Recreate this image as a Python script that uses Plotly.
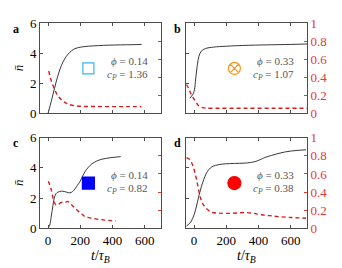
import plotly.graph_objects as go

# ---------------- data ----------------
# panel a  (phi=0.14, cP=1.36)
ta_n = [0, 20, 42, 62, 83, 104, 125, 146, 167, 208, 250, 312, 375, 450, 520, 580]
na = [0, 0.8, 1.75, 2.55, 3.2, 3.65, 3.96, 4.18, 4.32, 4.43, 4.48, 4.52, 4.55, 4.57, 4.58, 4.6]
ta_p = [4, 20, 42, 62, 83, 104, 125, 167, 210, 300, 400, 500, 580]
pa = [0.47, 0.36, 0.26, 0.19, 0.15, 0.12, 0.1, 0.082, 0.076, 0.074, 0.073, 0.073, 0.073]

# panel b  (phi=0.33, cP=1.07)
tb_n = [-25, -15, -5, 3, 10, 20, 30, 45, 70, 120, 200, 300, 450, 600, 700]
nb = [1.0, 1.15, 1.3, 1.6, 2.3, 3.2, 3.8, 4.15, 4.32, 4.42, 4.48, 4.53, 4.57, 4.6, 4.63]
tb_p = [-47, -35, -20, -5, 10, 20, 31, 50, 71, 150, 300, 500, 700]
pb = [0.32, 0.28, 0.22, 0.17, 0.13, 0.1, 0.08, 0.064, 0.056, 0.055, 0.055, 0.055, 0.055]

# panel c  (phi=0.14, cP=0.82)
tc_n = [0, 10, 19, 30, 40, 50, 61, 82, 100, 114, 135, 150, 166, 182, 198, 214, 229, 250, 272, 300, 335, 390, 450]
nc = [0, 0.2, 0.73, 1.5, 2.08, 2.3, 2.4, 2.46, 2.44, 2.4, 2.35, 2.42, 2.6, 2.85, 3.1, 3.45, 3.75, 4.05, 4.27, 4.45, 4.58, 4.68, 4.75]
tc_p = [2, 10, 19, 30, 40, 50, 61, 77, 93, 108, 124, 140, 156, 171, 187, 208, 229, 260, 293, 335, 377, 419]
pc = [0.52, 0.48, 0.43, 0.34, 0.28, 0.26, 0.26, 0.28, 0.29, 0.29, 0.295, 0.27, 0.24, 0.215, 0.19, 0.16, 0.13, 0.115, 0.104, 0.095, 0.087, 0.083]

# panel d  (phi=0.33, cP=0.38)
td_n = [-47, -20, 0, 10, 20, 31, 45, 61, 75, 92, 110, 133, 160, 194, 250, 316, 378, 410, 439, 480, 520, 560, 602, 650, 694]
nd = [0.15, 0.42, 0.9, 1.26, 1.7, 2.2, 2.75, 3.26, 3.62, 3.9, 4.07, 4.17, 4.23, 4.27, 4.3, 4.32, 4.42, 4.55, 4.69, 4.83, 4.95, 5.05, 5.12, 5.17, 5.2]
td_p = [-47, -35, -20, -5, 10, 20, 31, 41, 51, 66, 82, 100, 112, 150, 214, 270, 316, 370, 418, 470, 520, 600, 694]
pd_ = [0.78, 0.77, 0.74, 0.68, 0.58, 0.5, 0.4, 0.33, 0.28, 0.24, 0.21, 0.185, 0.175, 0.168, 0.165, 0.17, 0.175, 0.165, 0.15, 0.14, 0.13, 0.12, 0.112]

marker_t = [250]
marker_n = [3]

phi_labels = ["0.14", "0.33", "0.14", "0.33"]
cp_labels = ["1.36", "1.07", "0.82", "0.38"]
panel_letters = ["a", "b", "c", "d"]
n_ticks = [0, 2, 4, 6]
p_ticks = [0, 0.2, 0.4, 0.6, 0.8, 1]
p_ticklabels = ["0", "0.2", "0.4", "0.6", "0.8", "1"]
t_ticks = [0, 200, 400, 600]

# ---------------- figure ----------------
W, H = 342, 268
RED = "#d41f1f"
RED_LBL = "#e03a3a"
SPINE = "#4d4d4d"
FONT = "Liberation Serif, DejaVu Serif, serif"

panels = [
    dict(tn=ta_n, n=na, tp=ta_p, p=pa, sym="square-open", col="#33b5ee", size=11),
    dict(tn=tb_n, n=nb, tp=tb_p, p=pb, sym="circle-x-open", col="#f7941d", size=12),
    dict(tn=tc_n, n=nc, tp=tc_p, p=pc, sym="square", col="#0000ff", size=12),
    dict(tn=td_n, n=nd, tp=td_p, p=pd_, sym="circle", col="#ff0000", size=13),
]

# pixel boxes (left, right, top, bottom)
boxes = [(32, 153, 9, 104), (178, 299, 9, 104), (32, 153, 130, 226), (178, 299, 130, 226)]

fig = go.Figure()
layout = dict(
    width=W, height=H, margin=dict(l=0, r=0, t=0, b=0),
    paper_bgcolor="white", plot_bgcolor="white", showlegend=False,
    font=dict(family=FONT, size=12, color="black"),
)
annotations = []

for i, (pn, box) in enumerate(zip(panels, boxes)):
    xn = "x" if i == 0 else f"x{i+1}"
    yl = "y" if i == 0 else f"y{2*i+1}"
    yr = f"y{2*i+2}"
    xkey = "xaxis" if i == 0 else f"xaxis{i+1}"
    ylkey = "yaxis" if i == 0 else f"yaxis{2*i+1}"
    yrkey = f"yaxis{2*i+2}"
    l, r, t, b = box
    xd = [l / W, r / W]
    yd = [1 - b / H, 1 - t / H]
    bottom_row = i >= 2
    left_col = i % 2 == 0

    layout[xkey] = dict(
        domain=xd, anchor=yl, range=[-50, 700], tickvals=t_ticks,
        showticklabels=bottom_row, ticks="inside", ticklen=3, tickcolor=SPINE,
        showline=True, linecolor=SPINE, linewidth=1, mirror="ticks",
        showgrid=False, zeroline=False, tickfont=dict(size=13, family=FONT),
    )
    layout[ylkey] = dict(
        domain=yd, anchor=xn, range=[0, 6], tickvals=n_ticks,
        showticklabels=left_col, ticks="inside", ticklen=3, tickcolor=SPINE,
        showline=True, linecolor=SPINE, linewidth=1,
        showgrid=False, zeroline=False, tickfont=dict(size=13, family=FONT),
    )
    layout[yrkey] = dict(
        domain=yd, anchor=xn, overlaying=yl, side="right", range=[0, 1],
        tickvals=p_ticks, ticktext=p_ticklabels, showticklabels=not left_col,
        ticks="inside", ticklen=3, tickcolor=RED_LBL,
        showline=True, linecolor=SPINE, linewidth=1,
        showgrid=False, zeroline=False, tickfont=dict(size=13, family=FONT, color=RED_LBL),
    )

    fig.add_trace(go.Scatter(x=pn["tp"], y=pn["p"], xaxis=xn, yaxis=yr, mode="lines",
                             line=dict(color=RED, width=1.4, dash="4px,3px", shape="spline"),
                             hoverinfo="skip"))
    fig.add_trace(go.Scatter(x=pn["tn"], y=pn["n"], xaxis=xn, yaxis=yl, mode="lines",
                             line=dict(color="#222222", width=0.9, shape="spline"),
                             hoverinfo="skip"))
    fig.add_trace(go.Scatter(x=marker_t, y=marker_n, xaxis=xn, yaxis=yl, mode="markers",
                             marker=dict(symbol=pn["sym"], color=pn["col"], size=pn["size"],
                                         line=dict(color=pn["col"], width=1.2)),
                             hoverinfo="skip"))

    # phi / cP text
    annotations.append(dict(x=630, y=3.5, xref=xn, yref=yl, xanchor="right", yanchor="middle",
                            text=f"<i>ϕ</i> = {phi_labels[i]}", showarrow=False,
                            font=dict(size=11, family=FONT, color="#555555")))
    annotations.append(dict(x=630, y=2.58, xref=xn, yref=yl, xanchor="right", yanchor="middle",
                            text=f"<i>c<sub>P</sub></i> = {cp_labels[i]}", showarrow=False,
                            font=dict(size=11, family=FONT, color="#555555")))
    # panel letter
    annotations.append(dict(x=(l - 24) / W if left_col else (l - 9) / W, y=1 - (t + 6) / H,
                            xref="paper", yref="paper", xanchor="center", yanchor="middle",
                            text=f"<b>{panel_letters[i]}</b>", showarrow=False,
                            font=dict(size=12, family=FONT, color="black")))
    ymid = 1 - ((t + b) / 2) / H
    if left_col:
        annotations.append(dict(x=10 / W, y=ymid, xref="paper", yref="paper",
                                xanchor="center", yanchor="middle", textangle=-90,
                                text="<i>n̄</i>", showarrow=False,
                                font=dict(size=13, family=FONT, color="black")))
    else:
        annotations.append(dict(x=330 / W, y=ymid, xref="paper", yref="paper",
                                xanchor="center", yanchor="middle", textangle=-90,
                                borderpad=0,
                                text="<i>p</i><sub>break</sub>", showarrow=False,
                                font=dict(size=13, family=FONT, color=RED_LBL)))
    if bottom_row:
        annotations.append(dict(x=((l + r) / 2) / W, y=1 - 256 / H, xref="paper", yref="paper",
                                xanchor="center", yanchor="middle",
                                text="<i>t</i>/<i>τ<sub>B</sub></i>", showarrow=False,
                                font=dict(size=14, family=FONT, color="black")))

layout["annotations"] = annotations
fig.update_layout(**layout)
fig.write_html("out.html")
